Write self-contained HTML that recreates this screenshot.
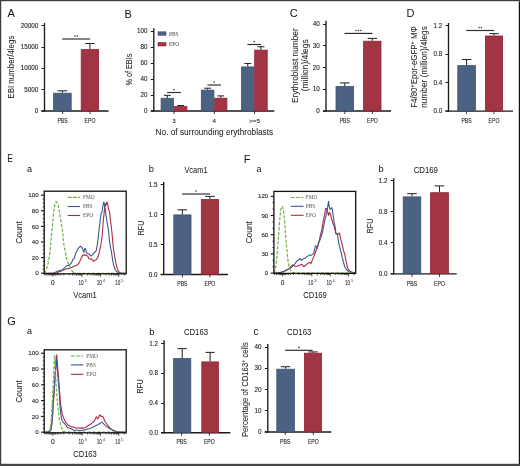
<!DOCTYPE html>
<html><head><meta charset="utf-8"><style>
html,body{margin:0;padding:0;background:#fff;}
svg{display:block;will-change:transform;}
</style></head><body>
<svg width="520" height="466" viewBox="0 0 520 466">
<rect x="0" y="0" width="520" height="466" fill="#fff"/>
<text x="7.6" y="17.3" font-size="11" text-anchor="start" fill="#111" font-family='"Liberation Sans", sans-serif'>A</text>
<text x="124.5" y="17.6" font-size="11" text-anchor="start" fill="#111" font-family='"Liberation Sans", sans-serif'>B</text>
<text x="289.8" y="17.4" font-size="11" text-anchor="start" fill="#111" font-family='"Liberation Sans", sans-serif'>C</text>
<text x="406.4" y="17.4" font-size="11" text-anchor="start" fill="#111" font-family='"Liberation Sans", sans-serif'>D</text>
<text x="7.2" y="162.2" font-size="11" text-anchor="start" fill="#111" font-family='"Liberation Sans", sans-serif' textLength="5.6" lengthAdjust="spacingAndGlyphs">E</text>
<text x="243.8" y="162.6" font-size="11" text-anchor="start" fill="#111" font-family='"Liberation Sans", sans-serif'>F</text>
<text x="7.3" y="325.3" font-size="11" text-anchor="start" fill="#111" font-family='"Liberation Sans", sans-serif'>G</text>
<line x1="44.5" y1="23" x2="44.5" y2="111.6" stroke="#1a1a1a" stroke-width="1.35"/>
<line x1="41.5" y1="111" x2="108.5" y2="111" stroke="#1a1a1a" stroke-width="1.35"/>
<line x1="41.5" y1="25.5" x2="44.5" y2="25.5" stroke="#1a1a1a" stroke-width="1.05"/>
<text x="38.3" y="27.8" font-size="6.3" text-anchor="end" fill="#222" font-family='"Liberation Sans", sans-serif' stroke="#222" stroke-width="0.1">20000</text>
<line x1="41.5" y1="47.5" x2="44.5" y2="47.5" stroke="#1a1a1a" stroke-width="1.05"/>
<text x="38.3" y="49.1" font-size="6.3" text-anchor="end" fill="#222" font-family='"Liberation Sans", sans-serif' stroke="#222" stroke-width="0.1">15000</text>
<line x1="41.5" y1="68.5" x2="44.5" y2="68.5" stroke="#1a1a1a" stroke-width="1.05"/>
<text x="38.3" y="70.39999999999999" font-size="6.3" text-anchor="end" fill="#222" font-family='"Liberation Sans", sans-serif' stroke="#222" stroke-width="0.1">10000</text>
<line x1="41.5" y1="89.5" x2="44.5" y2="89.5" stroke="#1a1a1a" stroke-width="1.05"/>
<text x="38.3" y="91.69999999999999" font-size="6.3" text-anchor="end" fill="#222" font-family='"Liberation Sans", sans-serif' stroke="#222" stroke-width="0.1">5000</text>
<line x1="41.5" y1="111" x2="44.5" y2="111" stroke="#1a1a1a" stroke-width="1.05"/>
<text x="38.3" y="113.1" font-size="6.3" text-anchor="end" fill="#222" font-family='"Liberation Sans", sans-serif' stroke="#222" stroke-width="0.1">0</text>
<line x1="62.4" y1="92.8" x2="62.4" y2="90.8" stroke="#262626" stroke-width="1.05"/>
<line x1="57.65" y1="90.8" x2="67.14999999999999" y2="90.8" stroke="#262626" stroke-width="1.05"/>
<rect x="53.6" y="93.2" width="17.599999999999987" height="17.799999999999997" fill="#4c6283" stroke="#3a5279" stroke-width="0.8"/>
<line x1="89.9" y1="49.2" x2="89.9" y2="43.5" stroke="#262626" stroke-width="1.05"/>
<line x1="85.2" y1="43.5" x2="94.60000000000001" y2="43.5" stroke="#262626" stroke-width="1.05"/>
<rect x="81.2" y="49.6" width="17.39999999999999" height="61.4" fill="#a23543" stroke="#8f2435" stroke-width="0.8"/>
<line x1="62.2" y1="39.0" x2="90.1" y2="39.0" stroke="#2b2b2b" stroke-width="1.15"/>
<circle cx="74.98" cy="36.10" r="0.8" fill="#3a3a3a"/>
<circle cx="77.33" cy="36.10" r="0.8" fill="#3a3a3a"/>
<line x1="62.6" y1="111" x2="62.6" y2="114" stroke="#222" stroke-width="0.9"/>
<text x="62.6" y="123.2" font-size="6.5" text-anchor="middle" fill="#222" font-family='"Liberation Sans", sans-serif' textLength="10.3" lengthAdjust="spacingAndGlyphs" stroke="#222" stroke-width="0.1">PBS</text>
<line x1="90" y1="111" x2="90" y2="114" stroke="#222" stroke-width="0.9"/>
<text x="90" y="123.2" font-size="6.5" text-anchor="middle" fill="#222" font-family='"Liberation Sans", sans-serif' textLength="10.8" lengthAdjust="spacingAndGlyphs" stroke="#222" stroke-width="0.1">EPO</text>
<text x="14.2" y="67.15" font-size="9.0" text-anchor="middle" fill="#222" font-family='"Liberation Sans", sans-serif' transform="rotate(-90 14.2 67.15)" textLength="63" lengthAdjust="spacingAndGlyphs" stroke="#222" stroke-width="0.04">EBI number/4legs</text>
<line x1="153.8" y1="28.3" x2="153.8" y2="111.6" stroke="#1a1a1a" stroke-width="1.35"/>
<line x1="150.8" y1="111" x2="274.4" y2="111" stroke="#1a1a1a" stroke-width="1.35"/>
<line x1="150.8" y1="31.5" x2="153.8" y2="31.5" stroke="#1a1a1a" stroke-width="1.05"/>
<text x="147.60000000000002" y="33.4" font-size="6.3" text-anchor="end" fill="#222" font-family='"Liberation Sans", sans-serif' stroke="#222" stroke-width="0.1">100</text>
<line x1="150.8" y1="47.5" x2="153.8" y2="47.5" stroke="#1a1a1a" stroke-width="1.05"/>
<text x="147.60000000000002" y="49.4" font-size="6.3" text-anchor="end" fill="#222" font-family='"Liberation Sans", sans-serif' stroke="#222" stroke-width="0.1">80</text>
<line x1="150.8" y1="63.5" x2="153.8" y2="63.5" stroke="#1a1a1a" stroke-width="1.05"/>
<text x="147.60000000000002" y="65.39999999999999" font-size="6.3" text-anchor="end" fill="#222" font-family='"Liberation Sans", sans-serif' stroke="#222" stroke-width="0.1">60</text>
<line x1="150.8" y1="79.5" x2="153.8" y2="79.5" stroke="#1a1a1a" stroke-width="1.05"/>
<text x="147.60000000000002" y="81.3" font-size="6.3" text-anchor="end" fill="#222" font-family='"Liberation Sans", sans-serif' stroke="#222" stroke-width="0.1">40</text>
<line x1="150.8" y1="95.5" x2="153.8" y2="95.5" stroke="#1a1a1a" stroke-width="1.05"/>
<text x="147.60000000000002" y="97.3" font-size="6.3" text-anchor="end" fill="#222" font-family='"Liberation Sans", sans-serif' stroke="#222" stroke-width="0.1">20</text>
<line x1="150.8" y1="111" x2="153.8" y2="111" stroke="#1a1a1a" stroke-width="1.05"/>
<text x="147.60000000000002" y="113.1" font-size="6.3" text-anchor="end" fill="#222" font-family='"Liberation Sans", sans-serif' stroke="#222" stroke-width="0.1">0</text>
<line x1="167.3" y1="97.9" x2="167.3" y2="95.3" stroke="#262626" stroke-width="1.05"/>
<line x1="163.85" y1="95.3" x2="170.75000000000003" y2="95.3" stroke="#262626" stroke-width="1.05"/>
<rect x="161.1" y="98.30000000000001" width="12.400000000000006" height="12.699999999999989" fill="#4c6283" stroke="#3a5279" stroke-width="0.8"/>
<line x1="180.60000000000002" y1="106.2" x2="180.60000000000002" y2="105.5" stroke="#262626" stroke-width="1.05"/>
<line x1="177.10000000000002" y1="105.5" x2="184.10000000000002" y2="105.5" stroke="#262626" stroke-width="1.05"/>
<rect x="174.3" y="106.60000000000001" width="12.599999999999994" height="4.3999999999999915" fill="#a23543" stroke="#8f2435" stroke-width="0.8"/>
<line x1="207.60000000000002" y1="89.7" x2="207.60000000000002" y2="88.2" stroke="#262626" stroke-width="1.05"/>
<line x1="204.10000000000002" y1="88.2" x2="211.10000000000002" y2="88.2" stroke="#262626" stroke-width="1.05"/>
<rect x="201.3" y="90.10000000000001" width="12.599999999999994" height="20.89999999999999" fill="#4c6283" stroke="#3a5279" stroke-width="0.8"/>
<line x1="220.8" y1="97.8" x2="220.8" y2="95.9" stroke="#262626" stroke-width="1.05"/>
<line x1="217.4" y1="95.9" x2="224.20000000000002" y2="95.9" stroke="#262626" stroke-width="1.05"/>
<rect x="214.70000000000002" y="98.2" width="12.199999999999989" height="12.799999999999997" fill="#a23543" stroke="#8f2435" stroke-width="0.8"/>
<line x1="247.75" y1="66.5" x2="247.75" y2="63.5" stroke="#262626" stroke-width="1.05"/>
<line x1="244.325" y1="63.5" x2="251.175" y2="63.5" stroke="#262626" stroke-width="1.05"/>
<rect x="241.6" y="66.9" width="12.300000000000011" height="44.099999999999994" fill="#4c6283" stroke="#3a5279" stroke-width="0.8"/>
<line x1="260.95000000000005" y1="49.7" x2="260.95000000000005" y2="46.7" stroke="#262626" stroke-width="1.05"/>
<line x1="257.475" y1="46.7" x2="264.42500000000007" y2="46.7" stroke="#262626" stroke-width="1.05"/>
<rect x="254.70000000000002" y="50.1" width="12.500000000000028" height="60.9" fill="#a23543" stroke="#8f2435" stroke-width="0.8"/>
<line x1="167.2" y1="92.5" x2="180.8" y2="92.5" stroke="#2b2b2b" stroke-width="1.15"/>
<circle cx="174.00" cy="89.60" r="0.8" fill="#3a3a3a"/>
<line x1="207.4" y1="85.0" x2="220.9" y2="85.0" stroke="#2b2b2b" stroke-width="1.15"/>
<circle cx="214.15" cy="82.10" r="0.8" fill="#3a3a3a"/>
<line x1="247.4" y1="44.5" x2="261.0" y2="44.5" stroke="#2b2b2b" stroke-width="1.15"/>
<circle cx="254.20" cy="41.60" r="0.8" fill="#3a3a3a"/>
<line x1="174" y1="111" x2="174" y2="114" stroke="#222" stroke-width="0.9"/>
<text x="174" y="123" font-size="6.2" text-anchor="middle" fill="#222" font-family='"Liberation Sans", sans-serif' stroke="#222" stroke-width="0.1">3</text>
<line x1="214.3" y1="111" x2="214.3" y2="114" stroke="#222" stroke-width="0.9"/>
<text x="214.3" y="123" font-size="6.2" text-anchor="middle" fill="#222" font-family='"Liberation Sans", sans-serif' stroke="#222" stroke-width="0.1">4</text>
<line x1="254.5" y1="111" x2="254.5" y2="114" stroke="#222" stroke-width="0.9"/>
<text x="254.5" y="123" font-size="6.2" text-anchor="middle" fill="#222" font-family='"Liberation Sans", sans-serif' stroke="#222" stroke-width="0.1">&gt;=5</text>
<text x="214.4" y="134.7" font-size="8.8" text-anchor="middle" fill="#222" font-family='"Liberation Sans", sans-serif' textLength="117.6" lengthAdjust="spacingAndGlyphs" stroke="#222" stroke-width="0.04">No. of surrounding erythroblasts</text>
<text x="131.8" y="69.6" font-size="8.8" text-anchor="middle" fill="#222" font-family='"Liberation Sans", sans-serif' transform="rotate(-90 131.8 69.6)" textLength="32" lengthAdjust="spacingAndGlyphs" stroke="#222" stroke-width="0.04">% of EBIs</text>
<rect x="158" y="31.8" width="8" height="3.4999999999999964" fill="#4c6283" stroke="#3d5478" stroke-width="0.6"/>
<rect x="158" y="42.5" width="8" height="3.5" fill="#a23543" stroke="#8e2a38" stroke-width="0.6"/>
<text x="169" y="35.6" font-size="5.4" text-anchor="start" fill="#444" font-family='"Liberation Serif", serif'>PBS</text>
<text x="169" y="46.1" font-size="5.4" text-anchor="start" fill="#444" font-family='"Liberation Serif", serif'>EPO</text>
<line x1="326" y1="20.8" x2="326" y2="111.6" stroke="#1a1a1a" stroke-width="1.35"/>
<line x1="323" y1="111" x2="391" y2="111" stroke="#1a1a1a" stroke-width="1.35"/>
<line x1="323" y1="24.5" x2="326" y2="24.5" stroke="#1a1a1a" stroke-width="1.05"/>
<text x="319.8" y="26.1" font-size="6.3" text-anchor="end" fill="#222" font-family='"Liberation Sans", sans-serif' stroke="#222" stroke-width="0.1">40</text>
<line x1="323" y1="45.5" x2="326" y2="45.5" stroke="#1a1a1a" stroke-width="1.05"/>
<text x="319.8" y="47.85" font-size="6.3" text-anchor="end" fill="#222" font-family='"Liberation Sans", sans-serif' stroke="#222" stroke-width="0.1">30</text>
<line x1="323" y1="67.5" x2="326" y2="67.5" stroke="#1a1a1a" stroke-width="1.05"/>
<text x="319.8" y="69.6" font-size="6.3" text-anchor="end" fill="#222" font-family='"Liberation Sans", sans-serif' stroke="#222" stroke-width="0.1">20</text>
<line x1="323" y1="89.5" x2="326" y2="89.5" stroke="#1a1a1a" stroke-width="1.05"/>
<text x="319.8" y="91.35" font-size="6.3" text-anchor="end" fill="#222" font-family='"Liberation Sans", sans-serif' stroke="#222" stroke-width="0.1">10</text>
<line x1="323" y1="111" x2="326" y2="111" stroke="#1a1a1a" stroke-width="1.05"/>
<text x="319.8" y="113.1" font-size="6.3" text-anchor="end" fill="#222" font-family='"Liberation Sans", sans-serif' stroke="#222" stroke-width="0.1">0</text>
<line x1="344.8" y1="86.1" x2="344.8" y2="82.9" stroke="#262626" stroke-width="1.05"/>
<line x1="340.05" y1="82.9" x2="349.55" y2="82.9" stroke="#262626" stroke-width="1.05"/>
<rect x="336.0" y="86.5" width="17.600000000000023" height="24.5" fill="#4c6283" stroke="#3a5279" stroke-width="0.8"/>
<line x1="372.29999999999995" y1="40.8" x2="372.29999999999995" y2="38.4" stroke="#262626" stroke-width="1.05"/>
<line x1="367.59999999999997" y1="38.4" x2="376.99999999999994" y2="38.4" stroke="#262626" stroke-width="1.05"/>
<rect x="363.59999999999997" y="41.199999999999996" width="17.400000000000034" height="69.80000000000001" fill="#a23543" stroke="#8f2435" stroke-width="0.8"/>
<line x1="344.5" y1="33.4" x2="372.4" y2="33.4" stroke="#2b2b2b" stroke-width="1.15"/>
<circle cx="356.10" cy="30.50" r="0.8" fill="#3a3a3a"/>
<circle cx="358.45" cy="30.50" r="0.8" fill="#3a3a3a"/>
<circle cx="360.80" cy="30.50" r="0.8" fill="#3a3a3a"/>
<line x1="344.8" y1="111" x2="344.8" y2="114" stroke="#222" stroke-width="0.9"/>
<text x="344.8" y="123.2" font-size="6.5" text-anchor="middle" fill="#222" font-family='"Liberation Sans", sans-serif' textLength="10.3" lengthAdjust="spacingAndGlyphs" stroke="#222" stroke-width="0.1">PBS</text>
<line x1="372.4" y1="111" x2="372.4" y2="114" stroke="#222" stroke-width="0.9"/>
<text x="372.4" y="123.2" font-size="6.5" text-anchor="middle" fill="#222" font-family='"Liberation Sans", sans-serif' textLength="10.8" lengthAdjust="spacingAndGlyphs" stroke="#222" stroke-width="0.1">EPO</text>
<text x="297.6" y="65.65" font-size="9.0" text-anchor="middle" fill="#222" font-family='"Liberation Sans", sans-serif' transform="rotate(-90 297.6 65.65)" textLength="74.6" lengthAdjust="spacingAndGlyphs" stroke="#222" stroke-width="0.04">Erythroblast number</text>
<text x="307.9" y="65.3" font-size="9.0" text-anchor="middle" fill="#222" font-family='"Liberation Sans", sans-serif' transform="rotate(-90 307.9 65.3)" textLength="51.8" lengthAdjust="spacingAndGlyphs" stroke="#222" stroke-width="0.04">(million)/4legs</text>
<line x1="448.5" y1="23" x2="448.5" y2="111.69999999999999" stroke="#1a1a1a" stroke-width="1.35"/>
<line x1="445.5" y1="111.1" x2="513" y2="111.1" stroke="#1a1a1a" stroke-width="1.35"/>
<line x1="445.5" y1="25.5" x2="448.5" y2="25.5" stroke="#1a1a1a" stroke-width="1.05"/>
<text x="442.3" y="28.0" font-size="6.3" text-anchor="end" fill="#222" font-family='"Liberation Sans", sans-serif' stroke="#222" stroke-width="0.1">1.2</text>
<line x1="445.5" y1="54.5" x2="448.5" y2="54.5" stroke="#1a1a1a" stroke-width="1.05"/>
<text x="442.3" y="56.4" font-size="6.3" text-anchor="end" fill="#222" font-family='"Liberation Sans", sans-serif' stroke="#222" stroke-width="0.1">0.8</text>
<line x1="445.5" y1="82.5" x2="448.5" y2="82.5" stroke="#1a1a1a" stroke-width="1.05"/>
<text x="442.3" y="84.8" font-size="6.3" text-anchor="end" fill="#222" font-family='"Liberation Sans", sans-serif' stroke="#222" stroke-width="0.1">0.4</text>
<line x1="445.5" y1="111.1" x2="448.5" y2="111.1" stroke="#1a1a1a" stroke-width="1.05"/>
<text x="442.3" y="113.19999999999999" font-size="6.3" text-anchor="end" fill="#222" font-family='"Liberation Sans", sans-serif' stroke="#222" stroke-width="0.1">0.0</text>
<line x1="466.6" y1="65.2" x2="466.6" y2="59.5" stroke="#262626" stroke-width="1.05"/>
<line x1="461.85" y1="59.5" x2="471.35" y2="59.5" stroke="#262626" stroke-width="1.05"/>
<rect x="457.79999999999995" y="65.60000000000001" width="17.60000000000008" height="45.499999999999986" fill="#4c6283" stroke="#3a5279" stroke-width="0.8"/>
<line x1="494.05" y1="35.6" x2="494.05" y2="33.6" stroke="#262626" stroke-width="1.05"/>
<line x1="489.425" y1="33.6" x2="498.675" y2="33.6" stroke="#262626" stroke-width="1.05"/>
<rect x="485.5" y="36.0" width="17.100000000000023" height="75.1" fill="#a23543" stroke="#8f2435" stroke-width="0.8"/>
<line x1="466.3" y1="30.5" x2="494.1" y2="30.5" stroke="#2b2b2b" stroke-width="1.15"/>
<circle cx="479.03" cy="27.60" r="0.8" fill="#3a3a3a"/>
<circle cx="481.38" cy="27.60" r="0.8" fill="#3a3a3a"/>
<line x1="466.6" y1="111.1" x2="466.6" y2="114.1" stroke="#222" stroke-width="0.9"/>
<text x="466.6" y="123.2" font-size="6.5" text-anchor="middle" fill="#222" font-family='"Liberation Sans", sans-serif' textLength="10.3" lengthAdjust="spacingAndGlyphs" stroke="#222" stroke-width="0.1">PBS</text>
<line x1="494" y1="111.1" x2="494" y2="114.1" stroke="#222" stroke-width="0.9"/>
<text x="494" y="123.2" font-size="6.5" text-anchor="middle" fill="#222" font-family='"Liberation Sans", sans-serif' textLength="10.8" lengthAdjust="spacingAndGlyphs" stroke="#222" stroke-width="0.1">EPO</text>
<text x="417.4" y="66.95" font-size="8.8" text-anchor="middle" fill="#222" font-family='"Liberation Sans", sans-serif' transform="rotate(-90 417.4 66.95)" textLength="81.5" lengthAdjust="spacingAndGlyphs" stroke="#222" stroke-width="0.04">F4/80<tspan font-size="6" dy="-3.2">+</tspan><tspan dy="3.2">Epor-eGFP</tspan><tspan font-size="6" dy="-3.2">+</tspan><tspan dy="3.2"> MΦ</tspan></text>
<text x="427.5" y="66.95" font-size="8.8" text-anchor="middle" fill="#222" font-family='"Liberation Sans", sans-serif' transform="rotate(-90 427.5 66.95)" textLength="81.6" lengthAdjust="spacingAndGlyphs" stroke="#222" stroke-width="0.04">number (million)/4legs</text>
<text x="148.8" y="172" font-size="9.3" text-anchor="start" fill="#111" font-family='"Liberation Sans", sans-serif'>b</text>
<text x="196" y="173.2" font-size="9.3" text-anchor="middle" fill="#222" font-family='"Liberation Sans", sans-serif' textLength="23.2" lengthAdjust="spacingAndGlyphs" stroke="#222" stroke-width="0.04">Vcam1</text>
<line x1="163.7" y1="182" x2="163.7" y2="275.1" stroke="#1a1a1a" stroke-width="1.35"/>
<line x1="160.7" y1="274.5" x2="228" y2="274.5" stroke="#1a1a1a" stroke-width="1.35"/>
<line x1="160.7" y1="184.5" x2="163.7" y2="184.5" stroke="#1a1a1a" stroke-width="1.05"/>
<text x="157.5" y="186.6" font-size="6.3" text-anchor="end" fill="#222" font-family='"Liberation Sans", sans-serif' stroke="#222" stroke-width="0.1">1.5</text>
<line x1="160.7" y1="214.5" x2="163.7" y2="214.5" stroke="#1a1a1a" stroke-width="1.05"/>
<text x="157.5" y="216.6" font-size="6.3" text-anchor="end" fill="#222" font-family='"Liberation Sans", sans-serif' stroke="#222" stroke-width="0.1">1.0</text>
<line x1="160.7" y1="244.5" x2="163.7" y2="244.5" stroke="#1a1a1a" stroke-width="1.05"/>
<text x="157.5" y="246.6" font-size="6.3" text-anchor="end" fill="#222" font-family='"Liberation Sans", sans-serif' stroke="#222" stroke-width="0.1">0.5</text>
<line x1="160.7" y1="274.5" x2="163.7" y2="274.5" stroke="#1a1a1a" stroke-width="1.05"/>
<text x="157.5" y="276.6" font-size="6.3" text-anchor="end" fill="#222" font-family='"Liberation Sans", sans-serif' stroke="#222" stroke-width="0.1">0.0</text>
<line x1="182.4" y1="214.5" x2="182.4" y2="209.8" stroke="#262626" stroke-width="1.05"/>
<line x1="177.75" y1="209.8" x2="187.05" y2="209.8" stroke="#262626" stroke-width="1.05"/>
<rect x="173.8" y="214.9" width="17.19999999999999" height="59.599999999999994" fill="#4c6283" stroke="#3a5279" stroke-width="0.8"/>
<line x1="209.9" y1="199.0" x2="209.9" y2="196.4" stroke="#262626" stroke-width="1.05"/>
<line x1="205.25" y1="196.4" x2="214.55" y2="196.4" stroke="#262626" stroke-width="1.05"/>
<rect x="201.3" y="199.4" width="17.19999999999999" height="75.1" fill="#a23543" stroke="#8f2435" stroke-width="0.8"/>
<line x1="182" y1="194.0" x2="210" y2="194.0" stroke="#2b2b2b" stroke-width="1.15"/>
<circle cx="196.00" cy="191.10" r="0.8" fill="#3a3a3a"/>
<line x1="182.4" y1="274.5" x2="182.4" y2="277.5" stroke="#222" stroke-width="0.9"/>
<text x="182.4" y="285.5" font-size="6.5" text-anchor="middle" fill="#222" font-family='"Liberation Sans", sans-serif' textLength="10.3" lengthAdjust="spacingAndGlyphs" stroke="#222" stroke-width="0.1">PBS</text>
<line x1="209.9" y1="274.5" x2="209.9" y2="277.5" stroke="#222" stroke-width="0.9"/>
<text x="209.9" y="285.5" font-size="6.5" text-anchor="middle" fill="#222" font-family='"Liberation Sans", sans-serif' textLength="10.8" lengthAdjust="spacingAndGlyphs" stroke="#222" stroke-width="0.1">EPO</text>
<text x="143.5" y="228.0" font-size="9.2" text-anchor="middle" fill="#222" font-family='"Liberation Sans", sans-serif' transform="rotate(-90 143.5 228.0)" textLength="14.4" lengthAdjust="spacingAndGlyphs" stroke="#222" stroke-width="0.04">RFU</text>
<text x="378.6" y="172.4" font-size="9.3" text-anchor="start" fill="#111" font-family='"Liberation Sans", sans-serif'>b</text>
<text x="425.8" y="172.9" font-size="9.4" text-anchor="middle" fill="#222" font-family='"Liberation Sans", sans-serif' textLength="24.3" lengthAdjust="spacingAndGlyphs" stroke="#222" stroke-width="0.04">CD169</text>
<line x1="393.7" y1="178.2" x2="393.7" y2="274.40000000000003" stroke="#1a1a1a" stroke-width="1.35"/>
<line x1="390.7" y1="273.8" x2="456.7" y2="273.8" stroke="#1a1a1a" stroke-width="1.35"/>
<line x1="390.7" y1="180.5" x2="393.7" y2="180.5" stroke="#1a1a1a" stroke-width="1.05"/>
<text x="387.5" y="182.79999999999998" font-size="6.3" text-anchor="end" fill="#222" font-family='"Liberation Sans", sans-serif' stroke="#222" stroke-width="0.1">1.2</text>
<line x1="390.7" y1="211.5" x2="393.7" y2="211.5" stroke="#1a1a1a" stroke-width="1.05"/>
<text x="387.5" y="213.79999999999998" font-size="6.3" text-anchor="end" fill="#222" font-family='"Liberation Sans", sans-serif' stroke="#222" stroke-width="0.1">0.8</text>
<line x1="390.7" y1="242.5" x2="393.7" y2="242.5" stroke="#1a1a1a" stroke-width="1.05"/>
<text x="387.5" y="244.9" font-size="6.3" text-anchor="end" fill="#222" font-family='"Liberation Sans", sans-serif' stroke="#222" stroke-width="0.1">0.4</text>
<line x1="390.7" y1="273.8" x2="393.7" y2="273.8" stroke="#1a1a1a" stroke-width="1.05"/>
<text x="387.5" y="275.90000000000003" font-size="6.3" text-anchor="end" fill="#222" font-family='"Liberation Sans", sans-serif' stroke="#222" stroke-width="0.1">0.0</text>
<line x1="412.0" y1="196.5" x2="412.0" y2="193.6" stroke="#262626" stroke-width="1.05"/>
<line x1="407.25" y1="193.6" x2="416.75" y2="193.6" stroke="#262626" stroke-width="1.05"/>
<rect x="403.2" y="196.9" width="17.600000000000023" height="76.9" fill="#4c6283" stroke="#3a5279" stroke-width="0.8"/>
<line x1="439.5" y1="192.3" x2="439.5" y2="185.9" stroke="#262626" stroke-width="1.05"/>
<line x1="434.7" y1="185.9" x2="444.3" y2="185.9" stroke="#262626" stroke-width="1.05"/>
<rect x="430.59999999999997" y="192.70000000000002" width="17.800000000000068" height="81.1" fill="#a23543" stroke="#8f2435" stroke-width="0.8"/>
<line x1="412" y1="273.8" x2="412" y2="276.8" stroke="#222" stroke-width="0.9"/>
<text x="412" y="285.5" font-size="6.5" text-anchor="middle" fill="#222" font-family='"Liberation Sans", sans-serif' textLength="10.3" lengthAdjust="spacingAndGlyphs" stroke="#222" stroke-width="0.1">PBS</text>
<line x1="439.5" y1="273.8" x2="439.5" y2="276.8" stroke="#222" stroke-width="0.9"/>
<text x="439.5" y="285.5" font-size="6.5" text-anchor="middle" fill="#222" font-family='"Liberation Sans", sans-serif' textLength="10.8" lengthAdjust="spacingAndGlyphs" stroke="#222" stroke-width="0.1">EPO</text>
<text x="373.4" y="226.0" font-size="9.2" text-anchor="middle" fill="#222" font-family='"Liberation Sans", sans-serif' transform="rotate(-90 373.4 226.0)" textLength="14.4" lengthAdjust="spacingAndGlyphs" stroke="#222" stroke-width="0.04">RFU</text>
<text x="149.2" y="334.5" font-size="9.3" text-anchor="start" fill="#111" font-family='"Liberation Sans", sans-serif'>b</text>
<text x="196" y="335.2" font-size="9.3" text-anchor="middle" fill="#222" font-family='"Liberation Sans", sans-serif' textLength="24.2" lengthAdjust="spacingAndGlyphs" stroke="#222" stroke-width="0.04">CD163</text>
<line x1="164.1" y1="340.3" x2="164.1" y2="433.3" stroke="#1a1a1a" stroke-width="1.35"/>
<line x1="161.1" y1="432.7" x2="230.3" y2="432.7" stroke="#1a1a1a" stroke-width="1.35"/>
<line x1="161.1" y1="343.5" x2="164.1" y2="343.5" stroke="#1a1a1a" stroke-width="1.05"/>
<text x="157.9" y="345.70000000000005" font-size="6.3" text-anchor="end" fill="#222" font-family='"Liberation Sans", sans-serif' stroke="#222" stroke-width="0.1">1.2</text>
<line x1="161.1" y1="373.5" x2="164.1" y2="373.5" stroke="#1a1a1a" stroke-width="1.05"/>
<text x="157.9" y="375.40000000000003" font-size="6.3" text-anchor="end" fill="#222" font-family='"Liberation Sans", sans-serif' stroke="#222" stroke-width="0.1">0.8</text>
<line x1="161.1" y1="403.5" x2="164.1" y2="403.5" stroke="#1a1a1a" stroke-width="1.05"/>
<text x="157.9" y="405.1" font-size="6.3" text-anchor="end" fill="#222" font-family='"Liberation Sans", sans-serif' stroke="#222" stroke-width="0.1">0.4</text>
<line x1="161.1" y1="432.7" x2="164.1" y2="432.7" stroke="#1a1a1a" stroke-width="1.05"/>
<text x="157.9" y="434.8" font-size="6.3" text-anchor="end" fill="#222" font-family='"Liberation Sans", sans-serif' stroke="#222" stroke-width="0.1">0.0</text>
<line x1="182.2" y1="358.2" x2="182.2" y2="348.6" stroke="#262626" stroke-width="1.05"/>
<line x1="177.54999999999998" y1="348.6" x2="186.85" y2="348.6" stroke="#262626" stroke-width="1.05"/>
<rect x="173.6" y="358.59999999999997" width="17.19999999999999" height="74.10000000000002" fill="#4c6283" stroke="#3a5279" stroke-width="0.8"/>
<line x1="210.10000000000002" y1="361.5" x2="210.10000000000002" y2="352.4" stroke="#262626" stroke-width="1.05"/>
<line x1="205.60000000000002" y1="352.4" x2="214.60000000000002" y2="352.4" stroke="#262626" stroke-width="1.05"/>
<rect x="201.8" y="361.9" width="16.599999999999994" height="70.80000000000001" fill="#a23543" stroke="#8f2435" stroke-width="0.8"/>
<line x1="181.6" y1="432.7" x2="181.6" y2="435.7" stroke="#222" stroke-width="0.9"/>
<text x="181.6" y="444.3" font-size="6.5" text-anchor="middle" fill="#222" font-family='"Liberation Sans", sans-serif' textLength="10.3" lengthAdjust="spacingAndGlyphs" stroke="#222" stroke-width="0.1">PBS</text>
<line x1="209.3" y1="432.7" x2="209.3" y2="435.7" stroke="#222" stroke-width="0.9"/>
<text x="209.3" y="444.3" font-size="6.5" text-anchor="middle" fill="#222" font-family='"Liberation Sans", sans-serif' textLength="10.8" lengthAdjust="spacingAndGlyphs" stroke="#222" stroke-width="0.1">EPO</text>
<text x="142.7" y="386.3" font-size="9.2" text-anchor="middle" fill="#222" font-family='"Liberation Sans", sans-serif' transform="rotate(-90 142.7 386.3)" textLength="14.4" lengthAdjust="spacingAndGlyphs" stroke="#222" stroke-width="0.04">RFU</text>
<text x="253.5" y="335.0" font-size="10.4" text-anchor="start" fill="#111" font-family='"Liberation Sans", sans-serif'>c</text>
<text x="299.2" y="335.2" font-size="9.3" text-anchor="middle" fill="#222" font-family='"Liberation Sans", sans-serif' textLength="24.2" lengthAdjust="spacingAndGlyphs" stroke="#222" stroke-width="0.04">CD163</text>
<line x1="267.8" y1="344.1" x2="267.8" y2="432.6" stroke="#1a1a1a" stroke-width="1.35"/>
<line x1="264.8" y1="432" x2="331.2" y2="432" stroke="#1a1a1a" stroke-width="1.35"/>
<line x1="264.8" y1="347.5" x2="267.8" y2="347.5" stroke="#1a1a1a" stroke-width="1.05"/>
<text x="261.6" y="349.1" font-size="6.3" text-anchor="end" fill="#222" font-family='"Liberation Sans", sans-serif' stroke="#222" stroke-width="0.1">40</text>
<line x1="264.8" y1="368.5" x2="267.8" y2="368.5" stroke="#1a1a1a" stroke-width="1.05"/>
<text x="261.6" y="370.40000000000003" font-size="6.3" text-anchor="end" fill="#222" font-family='"Liberation Sans", sans-serif' stroke="#222" stroke-width="0.1">30</text>
<line x1="264.8" y1="389.5" x2="267.8" y2="389.5" stroke="#1a1a1a" stroke-width="1.05"/>
<text x="261.6" y="391.6" font-size="6.3" text-anchor="end" fill="#222" font-family='"Liberation Sans", sans-serif' stroke="#222" stroke-width="0.1">20</text>
<line x1="264.8" y1="410.5" x2="267.8" y2="410.5" stroke="#1a1a1a" stroke-width="1.05"/>
<text x="261.6" y="412.8" font-size="6.3" text-anchor="end" fill="#222" font-family='"Liberation Sans", sans-serif' stroke="#222" stroke-width="0.1">10</text>
<line x1="264.8" y1="432" x2="267.8" y2="432" stroke="#1a1a1a" stroke-width="1.05"/>
<text x="261.6" y="434.1" font-size="6.3" text-anchor="end" fill="#222" font-family='"Liberation Sans", sans-serif' stroke="#222" stroke-width="0.1">0</text>
<line x1="285.6" y1="368.8" x2="285.6" y2="366.7" stroke="#262626" stroke-width="1.05"/>
<line x1="280.85" y1="366.7" x2="290.35" y2="366.7" stroke="#262626" stroke-width="1.05"/>
<rect x="276.79999999999995" y="369.2" width="17.60000000000008" height="62.80000000000001" fill="#4c6283" stroke="#3a5279" stroke-width="0.8"/>
<line x1="313.0" y1="352.8" x2="313.0" y2="351.9" stroke="#262626" stroke-width="1.05"/>
<line x1="308.35" y1="351.9" x2="317.65" y2="351.9" stroke="#262626" stroke-width="1.05"/>
<rect x="304.4" y="353.2" width="17.200000000000045" height="78.80000000000001" fill="#a23543" stroke="#8f2435" stroke-width="0.8"/>
<line x1="285.1" y1="350.3" x2="312.7" y2="350.3" stroke="#2b2b2b" stroke-width="1.15"/>
<circle cx="298.90" cy="347.40" r="0.8" fill="#3a3a3a"/>
<line x1="285.2" y1="432" x2="285.2" y2="435" stroke="#222" stroke-width="0.9"/>
<text x="285.2" y="444.3" font-size="6.5" text-anchor="middle" fill="#222" font-family='"Liberation Sans", sans-serif' textLength="10.3" lengthAdjust="spacingAndGlyphs" stroke="#222" stroke-width="0.1">PBS</text>
<line x1="313.3" y1="432" x2="313.3" y2="435" stroke="#222" stroke-width="0.9"/>
<text x="313.3" y="444.3" font-size="6.5" text-anchor="middle" fill="#222" font-family='"Liberation Sans", sans-serif' textLength="10.8" lengthAdjust="spacingAndGlyphs" stroke="#222" stroke-width="0.1">EPO</text>
<text x="248.3" y="389.6" font-size="8.8" text-anchor="middle" fill="#222" font-family='"Liberation Sans", sans-serif' transform="rotate(-90 248.3 389.6)" textLength="95" lengthAdjust="spacingAndGlyphs" stroke="#222" stroke-width="0.04">Percentage of CD163<tspan font-size="6" dy="-3.2">+</tspan><tspan dy="3.2"> cells</tspan></text>
<text x="27" y="172" font-size="9.0" text-anchor="start" fill="#111" font-family='"Liberation Sans", sans-serif'>a</text>
<text x="256.4" y="172" font-size="9.0" text-anchor="start" fill="#111" font-family='"Liberation Sans", sans-serif'>a</text>
<text x="27" y="334.3" font-size="9.0" text-anchor="start" fill="#111" font-family='"Liberation Sans", sans-serif'>a</text>
<polyline points="44.5,273.4 52.3,273.4 56,273.2 59.4,271.6 62,270.8 64.6,269.5 67.2,268.6 69.7,268.2 72.3,267.3 74.9,266 77,265.2 78.7,263.5 80,260.9 81.3,257.9 82.6,255.3 84.3,254.9 86.5,255.3 87.8,256.2 89,258.7 90.3,259.2 91.6,258.7 92.5,260 93.8,261.3 95.1,260.4 96.8,259.2 98.1,256.6 99.5,251.3 100.8,245 101.8,238.5 102.3,234 102.8,227.8 103.4,219.2 104.3,211.5 105,206.3 105.6,203.7 106,205.4 106.7,202.4 107.3,202.4 107.9,205.4 108.6,209.7 109.5,211.5 110.3,219.2 111.2,226 112,232.9 112.4,238 113.3,247.5 114.7,256.5 116,263.7 117.4,269.1 119.2,272.3 121.4,273.2 126,273.3" fill="none" stroke="#b02a3e" stroke-width="1.1" stroke-linejoin="round"/>
<polyline points="44.5,273.3 53.2,273.3 57.5,271.2 60.5,270.3 62.6,269.9 64.3,267.8 66.9,265.6 69.5,265.2 71.6,262.6 72.9,259.2 74,258.7 74.6,257.6 75.3,254 76.6,251.5 77.9,248.9 79.2,247.2 80.5,246.3 81.8,247.2 83,249.7 83.9,252.3 84.8,248.4 85.6,248.9 86.5,252.7 87.8,253.6 89.5,254.5 91.2,256.2 92.5,254.9 93.8,253.2 95.5,251.5 96.3,250.6 97.2,245.4 98.1,238.5 98.6,234 99.4,226.9 100.4,218.3 101.3,212.7 102.2,211.9 102.6,208 103.3,203.7 103.9,202 104.3,203.7 104.7,206.3 105.2,208.9 106,215.7 106.9,220.9 108.2,228.6 108.9,234 109.3,239.4 110.2,245.7 111.1,250.2 112,255.6 112.9,261.9 114.2,267.3 116,270.9 118.3,272.7 120.5,273.2 126,273.3" fill="none" stroke="#3a5a8e" stroke-width="1.1" stroke-linejoin="round"/>
<path d="M44.5,273.4 C44.58,273.25 44.63,273.3 45,272.5 C45.37,271.7 46.13,270.38 46.7,268.6 C47.27,266.82 47.9,264.37 48.4,261.8 C48.9,259.23 49.33,256.07 49.7,253.2 C50.07,250.33 50.35,247.13 50.6,244.6 C50.85,242.07 50.97,240.43 51.2,238 C51.43,235.57 51.7,233.07 52,230 C52.3,226.93 52.68,222.9 53,219.6 C53.32,216.3 53.58,212.72 53.9,210.2 C54.22,207.68 54.5,205.92 54.9,204.5 C55.3,203.08 55.75,201.55 56.3,201.7 C56.85,201.85 57.65,203.52 58.2,205.4 C58.75,207.28 59.13,210.32 59.6,213 C60.07,215.68 60.53,218.67 61,221.5 C61.47,224.33 62.07,227.58 62.4,230 C62.73,232.42 62.75,233.57 63,236 C63.25,238.43 63.47,241.73 63.9,244.6 C64.33,247.47 65.03,250.48 65.6,253.2 C66.17,255.92 66.65,258.77 67.3,260.9 C67.95,263.03 68.78,264.43 69.5,266 C70.22,267.57 70.88,269.22 71.6,270.3 C72.32,271.38 72.9,272 73.8,272.5 C74.7,273 68.3,273.15 77,273.3 C85.7,273.45 117.83,273.38 126,273.4" fill="none" stroke="#6fae45" stroke-width="1.2" stroke-dasharray="3.2,1.6"/>
<rect x="44.2" y="191.2" width="82.0" height="82.60000000000002" fill="none" stroke="#111" stroke-width="1.3"/>
<line x1="41.0" y1="273.2" x2="44.2" y2="273.2" stroke="#111" stroke-width="1.1"/>
<text x="38.6" y="275.34999999999997" font-size="6.2" text-anchor="end" fill="#222" font-family='"Liberation Sans", sans-serif' stroke="#222" stroke-width="0.1">0</text>
<line x1="41.0" y1="257.6" x2="44.2" y2="257.6" stroke="#111" stroke-width="1.1"/>
<text x="38.6" y="259.75" font-size="6.2" text-anchor="end" fill="#222" font-family='"Liberation Sans", sans-serif' stroke="#222" stroke-width="0.1">20</text>
<line x1="41.0" y1="242.0" x2="44.2" y2="242.0" stroke="#111" stroke-width="1.1"/>
<text x="38.6" y="244.15" font-size="6.2" text-anchor="end" fill="#222" font-family='"Liberation Sans", sans-serif' stroke="#222" stroke-width="0.1">40</text>
<line x1="41.0" y1="226.4" x2="44.2" y2="226.4" stroke="#111" stroke-width="1.1"/>
<text x="38.6" y="228.55" font-size="6.2" text-anchor="end" fill="#222" font-family='"Liberation Sans", sans-serif' stroke="#222" stroke-width="0.1">60</text>
<line x1="41.0" y1="210.8" x2="44.2" y2="210.8" stroke="#111" stroke-width="1.1"/>
<text x="38.6" y="212.95000000000002" font-size="6.2" text-anchor="end" fill="#222" font-family='"Liberation Sans", sans-serif' stroke="#222" stroke-width="0.1">80</text>
<line x1="41.0" y1="195.2" x2="44.2" y2="195.2" stroke="#111" stroke-width="1.1"/>
<text x="38.6" y="197.35" font-size="6.2" text-anchor="end" fill="#222" font-family='"Liberation Sans", sans-serif' stroke="#222" stroke-width="0.1">100</text>
<line x1="42.800000000000004" y1="269.3" x2="44.2" y2="269.3" stroke="#111" stroke-width="0.9"/>
<line x1="42.800000000000004" y1="265.4" x2="44.2" y2="265.4" stroke="#111" stroke-width="0.9"/>
<line x1="42.800000000000004" y1="261.5" x2="44.2" y2="261.5" stroke="#111" stroke-width="0.9"/>
<line x1="42.800000000000004" y1="253.7" x2="44.2" y2="253.7" stroke="#111" stroke-width="0.9"/>
<line x1="42.800000000000004" y1="249.8" x2="44.2" y2="249.8" stroke="#111" stroke-width="0.9"/>
<line x1="42.800000000000004" y1="245.9" x2="44.2" y2="245.9" stroke="#111" stroke-width="0.9"/>
<line x1="42.800000000000004" y1="238.1" x2="44.2" y2="238.1" stroke="#111" stroke-width="0.9"/>
<line x1="42.800000000000004" y1="234.2" x2="44.2" y2="234.2" stroke="#111" stroke-width="0.9"/>
<line x1="42.800000000000004" y1="230.3" x2="44.2" y2="230.3" stroke="#111" stroke-width="0.9"/>
<line x1="42.800000000000004" y1="222.5" x2="44.2" y2="222.5" stroke="#111" stroke-width="0.9"/>
<line x1="42.800000000000004" y1="218.6" x2="44.2" y2="218.6" stroke="#111" stroke-width="0.9"/>
<line x1="42.800000000000004" y1="214.7" x2="44.2" y2="214.7" stroke="#111" stroke-width="0.9"/>
<line x1="42.800000000000004" y1="206.9" x2="44.2" y2="206.9" stroke="#111" stroke-width="0.9"/>
<line x1="42.800000000000004" y1="203" x2="44.2" y2="203" stroke="#111" stroke-width="0.9"/>
<line x1="42.800000000000004" y1="199.1" x2="44.2" y2="199.1" stroke="#111" stroke-width="0.9"/>
<line x1="82.1" y1="273.8" x2="82.1" y2="276.8" stroke="#111" stroke-width="0.7"/>
<line x1="87.62" y1="273.8" x2="87.62" y2="275.5" stroke="#111" stroke-width="0.7"/>
<line x1="90.86" y1="273.8" x2="90.86" y2="275.5" stroke="#111" stroke-width="0.7"/>
<line x1="93.15" y1="273.8" x2="93.15" y2="275.5" stroke="#111" stroke-width="0.7"/>
<line x1="94.93" y1="273.8" x2="94.93" y2="275.5" stroke="#111" stroke-width="0.7"/>
<line x1="96.38" y1="273.8" x2="96.38" y2="275.5" stroke="#111" stroke-width="0.7"/>
<line x1="97.61" y1="273.8" x2="97.61" y2="275.5" stroke="#111" stroke-width="0.7"/>
<line x1="98.67" y1="273.8" x2="98.67" y2="275.5" stroke="#111" stroke-width="0.7"/>
<line x1="99.61" y1="273.8" x2="99.61" y2="275.5" stroke="#111" stroke-width="0.7"/>
<line x1="100.45" y1="273.8" x2="100.45" y2="276.8" stroke="#111" stroke-width="0.7"/>
<line x1="105.97" y1="273.8" x2="105.97" y2="275.5" stroke="#111" stroke-width="0.7"/>
<line x1="109.21" y1="273.8" x2="109.21" y2="275.5" stroke="#111" stroke-width="0.7"/>
<line x1="111.5" y1="273.8" x2="111.5" y2="275.5" stroke="#111" stroke-width="0.7"/>
<line x1="113.28" y1="273.8" x2="113.28" y2="275.5" stroke="#111" stroke-width="0.7"/>
<line x1="114.73" y1="273.8" x2="114.73" y2="275.5" stroke="#111" stroke-width="0.7"/>
<line x1="115.96" y1="273.8" x2="115.96" y2="275.5" stroke="#111" stroke-width="0.7"/>
<line x1="117.02" y1="273.8" x2="117.02" y2="275.5" stroke="#111" stroke-width="0.7"/>
<line x1="117.96" y1="273.8" x2="117.96" y2="275.5" stroke="#111" stroke-width="0.7"/>
<line x1="118.8" y1="273.8" x2="118.8" y2="276.8" stroke="#111" stroke-width="0.7"/>
<line x1="124.32" y1="273.8" x2="124.32" y2="275.5" stroke="#111" stroke-width="0.7"/>
<line x1="63.75" y1="273.8" x2="63.75" y2="275.5" stroke="#111" stroke-width="0.7"/>
<line x1="69.27" y1="273.8" x2="69.27" y2="275.5" stroke="#111" stroke-width="0.7"/>
<line x1="72.51" y1="273.8" x2="72.51" y2="275.5" stroke="#111" stroke-width="0.7"/>
<line x1="74.8" y1="273.8" x2="74.8" y2="275.5" stroke="#111" stroke-width="0.7"/>
<line x1="76.58" y1="273.8" x2="76.58" y2="275.5" stroke="#111" stroke-width="0.7"/>
<line x1="78.03" y1="273.8" x2="78.03" y2="275.5" stroke="#111" stroke-width="0.7"/>
<line x1="79.26" y1="273.8" x2="79.26" y2="275.5" stroke="#111" stroke-width="0.7"/>
<line x1="80.32" y1="273.8" x2="80.32" y2="275.5" stroke="#111" stroke-width="0.7"/>
<line x1="81.26" y1="273.8" x2="81.26" y2="275.5" stroke="#111" stroke-width="0.7"/>
<line x1="44.8" y1="273.8" x2="44.8" y2="275.5" stroke="#111" stroke-width="0.7"/>
<line x1="46.8" y1="273.8" x2="46.8" y2="275.5" stroke="#111" stroke-width="0.7"/>
<line x1="48.3" y1="273.8" x2="48.3" y2="275.5" stroke="#111" stroke-width="0.7"/>
<line x1="49.8" y1="273.8" x2="49.8" y2="275.5" stroke="#111" stroke-width="0.7"/>
<line x1="50.8" y1="273.8" x2="50.8" y2="275.5" stroke="#111" stroke-width="0.7"/>
<line x1="51.8" y1="273.8" x2="51.8" y2="275.5" stroke="#111" stroke-width="0.7"/>
<line x1="53.8" y1="273.8" x2="53.8" y2="275.5" stroke="#111" stroke-width="0.7"/>
<line x1="54.8" y1="273.8" x2="54.8" y2="275.5" stroke="#111" stroke-width="0.7"/>
<line x1="55.8" y1="273.8" x2="55.8" y2="275.5" stroke="#111" stroke-width="0.7"/>
<line x1="57.3" y1="273.8" x2="57.3" y2="275.5" stroke="#111" stroke-width="0.7"/>
<line x1="58.8" y1="273.8" x2="58.8" y2="275.5" stroke="#111" stroke-width="0.7"/>
<line x1="60.8" y1="273.8" x2="60.8" y2="275.5" stroke="#111" stroke-width="0.7"/>
<line x1="52.8" y1="273.8" x2="52.8" y2="276.8" stroke="#111" stroke-width="0.7"/>
<text x="52.8" y="285.2" font-size="6.6" text-anchor="middle" fill="#222" font-family='"Liberation Sans", sans-serif' stroke="#222" stroke-width="0.1">0</text>
<text x="78.4" y="285.2" font-size="6.6" fill="#222" font-family='"Liberation Sans", sans-serif' stroke="#222" stroke-width="0.06" textLength="5.2" lengthAdjust="spacingAndGlyphs">10</text>
<text x="84.5" y="282.3" font-size="4" fill="#333" font-family='"Liberation Sans", sans-serif'>3</text>
<text x="96.75" y="285.2" font-size="6.6" fill="#222" font-family='"Liberation Sans", sans-serif' stroke="#222" stroke-width="0.06" textLength="5.2" lengthAdjust="spacingAndGlyphs">10</text>
<text x="102.85" y="282.3" font-size="4" fill="#333" font-family='"Liberation Sans", sans-serif'>4</text>
<text x="115.1" y="285.2" font-size="6.6" fill="#222" font-family='"Liberation Sans", sans-serif' stroke="#222" stroke-width="0.06" textLength="5.2" lengthAdjust="spacingAndGlyphs">10</text>
<text x="121.2" y="282.3" font-size="4" fill="#333" font-family='"Liberation Sans", sans-serif'>5</text>
<text x="85" y="297.5" font-size="9.3" text-anchor="middle" fill="#222" font-family='"Liberation Sans", sans-serif' textLength="23.7" lengthAdjust="spacingAndGlyphs" stroke="#222" stroke-width="0.04">Vcam1</text>
<text x="22.3" y="232.5" font-size="9.0" text-anchor="middle" fill="#222" font-family='"Liberation Sans", sans-serif' transform="rotate(-90 22.3 232.5)" textLength="22.6" lengthAdjust="spacingAndGlyphs" stroke="#222" stroke-width="0.04">Count</text>
<line x1="67.7" y1="197.3" x2="80.1" y2="197.3" stroke="#6fae45" stroke-width="1.2" stroke-dasharray="4,1.2"/>
<text x="83" y="199.20000000000002" font-size="5.4" text-anchor="start" fill="#555" font-family='"Liberation Serif", serif'>FMO</text>
<line x1="67.7" y1="206.5" x2="80.1" y2="206.5" stroke="#3a5a8e" stroke-width="1.1"/>
<text x="83" y="208.4" font-size="5.4" text-anchor="start" fill="#555" font-family='"Liberation Serif", serif'>PBS</text>
<line x1="67.7" y1="215.5" x2="80.1" y2="215.5" stroke="#b02a3e" stroke-width="1.1"/>
<text x="83" y="217.4" font-size="5.4" text-anchor="start" fill="#555" font-family='"Liberation Serif", serif'>EPO</text>
<polyline points="274.2,273.2 280,272.6 284,271.5 288.8,268.6 292.7,264.8 294.6,266.2 297,266.2 299.5,265.3 301.9,264.3 303.8,266.7 305.7,265.3 307.7,263.3 309.6,262.4 310.9,263.6 312,260.9 314,256.1 315.9,250.8 317.8,246.4 319.3,240.6 320.5,234.5 321.8,229.8 323.2,221.1 324.7,214.3 325.6,208.5 326.6,208.5 327.6,211.4 328.5,215.3 329.5,212.4 330.5,214.3 331.4,218.2 332.9,223 334.3,226.9 335.8,233.2 337.7,234.1 338.4,234 339.4,233 339.9,235 340.9,239.9 342.3,244.8 343.3,249.7 344.8,254.7 345.8,259.6 346.8,264.6 347.8,268.5 349.7,271 352.7,272.4 356,273.1" fill="none" stroke="#b02a3e" stroke-width="1.1" stroke-linejoin="round"/>
<polyline points="274.2,273.2 278,272.9 281,272.3 284,271.5 287.9,269.6 291.7,267.2 294.6,264.3 297,260.9 298.5,260 299.9,258.5 301.4,260.4 302.8,259 304.8,258.5 306.2,257.1 307.7,256.1 309.1,255.1 310.6,255.6 312,254.6 313.5,253.7 314.4,250.3 315.4,245.9 316.4,246.4 317.3,248.4 318.3,243.5 319.7,240.6 320.6,238 322.2,233.6 323.7,225.9 325.1,219.2 326.6,212.9 327.6,207.6 328.5,201.3 329.3,206.6 330,209.5 330.9,208.5 331.9,207.6 332.6,211.4 333.4,217.2 334.3,223 335.3,227.5 335.9,234 337.4,234.4 337.9,237.9 338.9,243.8 340.4,249.7 341.8,255.7 343.3,261.6 344.8,267 346.8,270 349.7,272 352.7,272.9 356,273.1" fill="none" stroke="#3a5a8e" stroke-width="1.1" stroke-linejoin="round"/>
<path d="M274.3,273 C274.5,272.17 275.08,270.43 275.5,268 C275.92,265.57 276.42,262.23 276.8,258.4 C277.18,254.57 277.47,249.4 277.8,245 C278.13,240.6 278.45,236.5 278.8,232 C279.15,227.5 279.55,221.75 279.9,218 C280.25,214.25 280.53,211.43 280.9,209.5 C281.27,207.57 281.72,206.48 282.1,206.4 C282.48,206.32 282.83,207.07 283.2,209 C283.57,210.93 283.93,214.17 284.3,218 C284.67,221.83 285.03,227.33 285.4,232 C285.77,236.67 286.12,241.67 286.5,246 C286.88,250.33 287.27,254.58 287.7,258 C288.13,261.42 288.55,264.33 289.1,266.5 C289.65,268.67 290.18,269.93 291,271 C291.82,272.07 293,272.55 294,272.9 C295,273.25 286.67,273.07 297,273.1 C307.33,273.13 346.17,273.1 356,273.1" fill="none" stroke="#6fae45" stroke-width="1.2" stroke-dasharray="3.2,1.6"/>
<rect x="273.9" y="191.4" width="81.80000000000001" height="81.99999999999997" fill="none" stroke="#111" stroke-width="1.3"/>
<line x1="270.7" y1="273.1" x2="273.9" y2="273.1" stroke="#111" stroke-width="1.1"/>
<text x="268.29999999999995" y="275.25" font-size="6.2" text-anchor="end" fill="#222" font-family='"Liberation Sans", sans-serif' stroke="#222" stroke-width="0.1">0</text>
<line x1="270.7" y1="253.9" x2="273.9" y2="253.9" stroke="#111" stroke-width="1.1"/>
<text x="268.29999999999995" y="256.05" font-size="6.2" text-anchor="end" fill="#222" font-family='"Liberation Sans", sans-serif' stroke="#222" stroke-width="0.1">30</text>
<line x1="270.7" y1="234.7" x2="273.9" y2="234.7" stroke="#111" stroke-width="1.1"/>
<text x="268.29999999999995" y="236.85" font-size="6.2" text-anchor="end" fill="#222" font-family='"Liberation Sans", sans-serif' stroke="#222" stroke-width="0.1">60</text>
<line x1="270.7" y1="215.5" x2="273.9" y2="215.5" stroke="#111" stroke-width="1.1"/>
<text x="268.29999999999995" y="217.65" font-size="6.2" text-anchor="end" fill="#222" font-family='"Liberation Sans", sans-serif' stroke="#222" stroke-width="0.1">90</text>
<line x1="270.7" y1="196.3" x2="273.9" y2="196.3" stroke="#111" stroke-width="1.1"/>
<text x="268.29999999999995" y="198.45000000000002" font-size="6.2" text-anchor="end" fill="#222" font-family='"Liberation Sans", sans-serif' stroke="#222" stroke-width="0.1">120</text>
<line x1="272.5" y1="266.7" x2="273.9" y2="266.7" stroke="#111" stroke-width="0.9"/>
<line x1="272.5" y1="260.3" x2="273.9" y2="260.3" stroke="#111" stroke-width="0.9"/>
<line x1="272.5" y1="247.5" x2="273.9" y2="247.5" stroke="#111" stroke-width="0.9"/>
<line x1="272.5" y1="241.1" x2="273.9" y2="241.1" stroke="#111" stroke-width="0.9"/>
<line x1="272.5" y1="228.3" x2="273.9" y2="228.3" stroke="#111" stroke-width="0.9"/>
<line x1="272.5" y1="221.9" x2="273.9" y2="221.9" stroke="#111" stroke-width="0.9"/>
<line x1="272.5" y1="209.1" x2="273.9" y2="209.1" stroke="#111" stroke-width="0.9"/>
<line x1="272.5" y1="202.7" x2="273.9" y2="202.7" stroke="#111" stroke-width="0.9"/>
<line x1="311.8" y1="273.4" x2="311.8" y2="276.4" stroke="#111" stroke-width="0.7"/>
<line x1="317.34" y1="273.4" x2="317.34" y2="275.09999999999997" stroke="#111" stroke-width="0.7"/>
<line x1="320.58" y1="273.4" x2="320.58" y2="275.09999999999997" stroke="#111" stroke-width="0.7"/>
<line x1="322.88" y1="273.4" x2="322.88" y2="275.09999999999997" stroke="#111" stroke-width="0.7"/>
<line x1="324.66" y1="273.4" x2="324.66" y2="275.09999999999997" stroke="#111" stroke-width="0.7"/>
<line x1="326.12" y1="273.4" x2="326.12" y2="275.09999999999997" stroke="#111" stroke-width="0.7"/>
<line x1="327.35" y1="273.4" x2="327.35" y2="275.09999999999997" stroke="#111" stroke-width="0.7"/>
<line x1="328.42" y1="273.4" x2="328.42" y2="275.09999999999997" stroke="#111" stroke-width="0.7"/>
<line x1="329.36" y1="273.4" x2="329.36" y2="275.09999999999997" stroke="#111" stroke-width="0.7"/>
<line x1="330.2" y1="273.4" x2="330.2" y2="276.4" stroke="#111" stroke-width="0.7"/>
<line x1="335.74" y1="273.4" x2="335.74" y2="275.09999999999997" stroke="#111" stroke-width="0.7"/>
<line x1="338.98" y1="273.4" x2="338.98" y2="275.09999999999997" stroke="#111" stroke-width="0.7"/>
<line x1="341.28" y1="273.4" x2="341.28" y2="275.09999999999997" stroke="#111" stroke-width="0.7"/>
<line x1="343.06" y1="273.4" x2="343.06" y2="275.09999999999997" stroke="#111" stroke-width="0.7"/>
<line x1="344.52" y1="273.4" x2="344.52" y2="275.09999999999997" stroke="#111" stroke-width="0.7"/>
<line x1="345.75" y1="273.4" x2="345.75" y2="275.09999999999997" stroke="#111" stroke-width="0.7"/>
<line x1="346.82" y1="273.4" x2="346.82" y2="275.09999999999997" stroke="#111" stroke-width="0.7"/>
<line x1="347.76" y1="273.4" x2="347.76" y2="275.09999999999997" stroke="#111" stroke-width="0.7"/>
<line x1="348.6" y1="273.4" x2="348.6" y2="276.4" stroke="#111" stroke-width="0.7"/>
<line x1="354.14" y1="273.4" x2="354.14" y2="275.09999999999997" stroke="#111" stroke-width="0.7"/>
<line x1="293.4" y1="273.4" x2="293.4" y2="275.09999999999997" stroke="#111" stroke-width="0.7"/>
<line x1="298.94" y1="273.4" x2="298.94" y2="275.09999999999997" stroke="#111" stroke-width="0.7"/>
<line x1="302.18" y1="273.4" x2="302.18" y2="275.09999999999997" stroke="#111" stroke-width="0.7"/>
<line x1="304.48" y1="273.4" x2="304.48" y2="275.09999999999997" stroke="#111" stroke-width="0.7"/>
<line x1="306.26" y1="273.4" x2="306.26" y2="275.09999999999997" stroke="#111" stroke-width="0.7"/>
<line x1="307.72" y1="273.4" x2="307.72" y2="275.09999999999997" stroke="#111" stroke-width="0.7"/>
<line x1="308.95" y1="273.4" x2="308.95" y2="275.09999999999997" stroke="#111" stroke-width="0.7"/>
<line x1="310.02" y1="273.4" x2="310.02" y2="275.09999999999997" stroke="#111" stroke-width="0.7"/>
<line x1="310.96" y1="273.4" x2="310.96" y2="275.09999999999997" stroke="#111" stroke-width="0.7"/>
<line x1="274.5" y1="273.4" x2="274.5" y2="275.09999999999997" stroke="#111" stroke-width="0.7"/>
<line x1="276.5" y1="273.4" x2="276.5" y2="275.09999999999997" stroke="#111" stroke-width="0.7"/>
<line x1="278" y1="273.4" x2="278" y2="275.09999999999997" stroke="#111" stroke-width="0.7"/>
<line x1="279.5" y1="273.4" x2="279.5" y2="275.09999999999997" stroke="#111" stroke-width="0.7"/>
<line x1="280.5" y1="273.4" x2="280.5" y2="275.09999999999997" stroke="#111" stroke-width="0.7"/>
<line x1="281.5" y1="273.4" x2="281.5" y2="275.09999999999997" stroke="#111" stroke-width="0.7"/>
<line x1="283.5" y1="273.4" x2="283.5" y2="275.09999999999997" stroke="#111" stroke-width="0.7"/>
<line x1="284.5" y1="273.4" x2="284.5" y2="275.09999999999997" stroke="#111" stroke-width="0.7"/>
<line x1="285.5" y1="273.4" x2="285.5" y2="275.09999999999997" stroke="#111" stroke-width="0.7"/>
<line x1="287" y1="273.4" x2="287" y2="275.09999999999997" stroke="#111" stroke-width="0.7"/>
<line x1="288.5" y1="273.4" x2="288.5" y2="275.09999999999997" stroke="#111" stroke-width="0.7"/>
<line x1="290.5" y1="273.4" x2="290.5" y2="275.09999999999997" stroke="#111" stroke-width="0.7"/>
<line x1="282.5" y1="273.4" x2="282.5" y2="276.4" stroke="#111" stroke-width="0.7"/>
<text x="282.5" y="284.79999999999995" font-size="6.6" text-anchor="middle" fill="#222" font-family='"Liberation Sans", sans-serif' stroke="#222" stroke-width="0.1">0</text>
<text x="308.1" y="284.79999999999995" font-size="6.6" fill="#222" font-family='"Liberation Sans", sans-serif' stroke="#222" stroke-width="0.06" textLength="5.2" lengthAdjust="spacingAndGlyphs">10</text>
<text x="314.2" y="281.9" font-size="4" fill="#333" font-family='"Liberation Sans", sans-serif'>3</text>
<text x="326.5" y="284.79999999999995" font-size="6.6" fill="#222" font-family='"Liberation Sans", sans-serif' stroke="#222" stroke-width="0.06" textLength="5.2" lengthAdjust="spacingAndGlyphs">10</text>
<text x="332.6" y="281.9" font-size="4" fill="#333" font-family='"Liberation Sans", sans-serif'>4</text>
<text x="344.9" y="284.79999999999995" font-size="6.6" fill="#222" font-family='"Liberation Sans", sans-serif' stroke="#222" stroke-width="0.06" textLength="5.2" lengthAdjust="spacingAndGlyphs">10</text>
<text x="351" y="281.9" font-size="4" fill="#333" font-family='"Liberation Sans", sans-serif'>5</text>
<text x="315" y="297.8" font-size="9.3" text-anchor="middle" fill="#222" font-family='"Liberation Sans", sans-serif' textLength="23.7" lengthAdjust="spacingAndGlyphs" stroke="#222" stroke-width="0.04">CD169</text>
<text x="252" y="232.3" font-size="9.0" text-anchor="middle" fill="#222" font-family='"Liberation Sans", sans-serif' transform="rotate(-90 252 232.3)" textLength="22.6" lengthAdjust="spacingAndGlyphs" stroke="#222" stroke-width="0.04">Count</text>
<line x1="290.8" y1="197.5" x2="303.6" y2="197.5" stroke="#6fae45" stroke-width="1.2" stroke-dasharray="4,1.2"/>
<text x="305.7" y="199.4" font-size="5.4" text-anchor="start" fill="#555" font-family='"Liberation Serif", serif'>FMO</text>
<line x1="290.8" y1="206.3" x2="303.6" y2="206.3" stroke="#3a5a8e" stroke-width="1.1"/>
<text x="305.7" y="208.20000000000002" font-size="5.4" text-anchor="start" fill="#555" font-family='"Liberation Serif", serif'>PBS</text>
<line x1="290.8" y1="215.3" x2="303.6" y2="215.3" stroke="#b02a3e" stroke-width="1.1"/>
<text x="305.7" y="217.20000000000002" font-size="5.4" text-anchor="start" fill="#555" font-family='"Liberation Serif", serif'>EPO</text>
<polyline points="44.5,432.4 49,432 50.8,430.5 51.9,424 52.8,413 53.2,404 53.6,400 55.1,377 56.7,354.8 58.5,377 59.9,396 60.7,404.6 62,413.2 63.7,418.3 65.5,421.8 67.2,424.3 68.9,425.6 71.5,426.9 74,427.3 76.6,428.2 78.3,427.8 80,428.3 81.8,427.9 83.5,428.1 85.3,427.4 87.1,426.5 88.8,425.2 90.6,424.3 92.4,422.6 94.2,421.2 95.5,418.6 96.4,416.8 97.7,419 99,416.4 99.9,414.9 101.2,416.4 102.6,416.4 103.5,417.7 104.8,421.2 106.1,423 107.4,424.8 108.8,426.5 110.1,428.6 112.7,430 115.4,431.3 118,431.9 126,432.2" fill="none" stroke="#b02a3e" stroke-width="1.1" stroke-linejoin="round"/>
<polyline points="44.5,432.4 48.3,431.6 50.4,430.3 51.7,424.3 52.6,413.2 53,404 53.4,400 54.9,378 56.3,358.6 58,378 59.5,396 59.9,404.6 60.7,413.2 61.6,419.2 62.9,421.8 64.6,423.5 66.3,426 68,427.8 69.8,428.2 71.5,429 73.6,430.3 78.3,430.3 80,430.5 83.5,430.1 87.1,429.2 90.6,428.3 94.2,426.5 97.7,424.8 99.9,423.5 101.7,422.1 103,423.2 104.8,424.8 107.4,427 110.1,428.8 112.7,430.1 115.4,431.4 118,431.9 126,432.2" fill="none" stroke="#3a5a8e" stroke-width="1.1" stroke-linejoin="round"/>
<path d="M44.5,432.4 C44.7,432.27 45,431.8 45.7,431.6 C46.4,431.4 47.98,431.55 48.7,431.2 C49.42,430.85 49.63,430.78 50,429.5 C50.37,428.22 50.62,426.22 50.9,423.5 C51.18,420.78 51.48,416.35 51.7,413.2 C51.92,410.05 52.05,407.47 52.2,404.6 C52.35,401.73 52.37,400.93 52.6,396 C52.83,391.07 53.25,381.87 53.6,375 C53.95,368.13 54.37,354.8 54.7,354.8 C55.03,354.8 55.23,368.13 55.6,375 C55.97,381.87 56.55,391.07 56.9,396 C57.25,400.93 57.42,401.73 57.7,404.6 C57.98,407.47 58.23,410.33 58.6,413.2 C58.97,416.07 59.4,419.37 59.9,421.8 C60.4,424.23 60.88,426.23 61.6,427.8 C62.32,429.37 63.27,430.5 64.2,431.2 C65.13,431.9 56.9,431.83 67.2,432 C77.5,432.17 116.2,432.17 126,432.2" fill="none" stroke="#6fae45" stroke-width="1.2" stroke-dasharray="3.2,1.6"/>
<rect x="44.2" y="349.8" width="82.0" height="83.0" fill="none" stroke="#111" stroke-width="1.3"/>
<line x1="41.0" y1="432.2" x2="44.2" y2="432.2" stroke="#111" stroke-width="1.1"/>
<text x="38.6" y="434.34999999999997" font-size="6.2" text-anchor="end" fill="#222" font-family='"Liberation Sans", sans-serif' stroke="#222" stroke-width="0.1">0</text>
<line x1="41.0" y1="416.4" x2="44.2" y2="416.4" stroke="#111" stroke-width="1.1"/>
<text x="38.6" y="418.54999999999995" font-size="6.2" text-anchor="end" fill="#222" font-family='"Liberation Sans", sans-serif' stroke="#222" stroke-width="0.1">20</text>
<line x1="41.0" y1="400.6" x2="44.2" y2="400.6" stroke="#111" stroke-width="1.1"/>
<text x="38.6" y="402.75" font-size="6.2" text-anchor="end" fill="#222" font-family='"Liberation Sans", sans-serif' stroke="#222" stroke-width="0.1">40</text>
<line x1="41.0" y1="384.8" x2="44.2" y2="384.8" stroke="#111" stroke-width="1.1"/>
<text x="38.6" y="386.95" font-size="6.2" text-anchor="end" fill="#222" font-family='"Liberation Sans", sans-serif' stroke="#222" stroke-width="0.1">60</text>
<line x1="41.0" y1="369.0" x2="44.2" y2="369.0" stroke="#111" stroke-width="1.1"/>
<text x="38.6" y="371.15" font-size="6.2" text-anchor="end" fill="#222" font-family='"Liberation Sans", sans-serif' stroke="#222" stroke-width="0.1">80</text>
<line x1="41.0" y1="353.2" x2="44.2" y2="353.2" stroke="#111" stroke-width="1.1"/>
<text x="38.6" y="355.34999999999997" font-size="6.2" text-anchor="end" fill="#222" font-family='"Liberation Sans", sans-serif' stroke="#222" stroke-width="0.1">100</text>
<line x1="42.800000000000004" y1="428.25" x2="44.2" y2="428.25" stroke="#111" stroke-width="0.9"/>
<line x1="42.800000000000004" y1="424.3" x2="44.2" y2="424.3" stroke="#111" stroke-width="0.9"/>
<line x1="42.800000000000004" y1="420.35" x2="44.2" y2="420.35" stroke="#111" stroke-width="0.9"/>
<line x1="42.800000000000004" y1="412.45" x2="44.2" y2="412.45" stroke="#111" stroke-width="0.9"/>
<line x1="42.800000000000004" y1="408.5" x2="44.2" y2="408.5" stroke="#111" stroke-width="0.9"/>
<line x1="42.800000000000004" y1="404.55" x2="44.2" y2="404.55" stroke="#111" stroke-width="0.9"/>
<line x1="42.800000000000004" y1="396.65" x2="44.2" y2="396.65" stroke="#111" stroke-width="0.9"/>
<line x1="42.800000000000004" y1="392.7" x2="44.2" y2="392.7" stroke="#111" stroke-width="0.9"/>
<line x1="42.800000000000004" y1="388.75" x2="44.2" y2="388.75" stroke="#111" stroke-width="0.9"/>
<line x1="42.800000000000004" y1="380.85" x2="44.2" y2="380.85" stroke="#111" stroke-width="0.9"/>
<line x1="42.800000000000004" y1="376.9" x2="44.2" y2="376.9" stroke="#111" stroke-width="0.9"/>
<line x1="42.800000000000004" y1="372.95" x2="44.2" y2="372.95" stroke="#111" stroke-width="0.9"/>
<line x1="42.800000000000004" y1="365.05" x2="44.2" y2="365.05" stroke="#111" stroke-width="0.9"/>
<line x1="42.800000000000004" y1="361.1" x2="44.2" y2="361.1" stroke="#111" stroke-width="0.9"/>
<line x1="42.800000000000004" y1="357.15" x2="44.2" y2="357.15" stroke="#111" stroke-width="0.9"/>
<line x1="82.1" y1="432.8" x2="82.1" y2="435.8" stroke="#111" stroke-width="0.7"/>
<line x1="87.62" y1="432.8" x2="87.62" y2="434.5" stroke="#111" stroke-width="0.7"/>
<line x1="90.86" y1="432.8" x2="90.86" y2="434.5" stroke="#111" stroke-width="0.7"/>
<line x1="93.15" y1="432.8" x2="93.15" y2="434.5" stroke="#111" stroke-width="0.7"/>
<line x1="94.93" y1="432.8" x2="94.93" y2="434.5" stroke="#111" stroke-width="0.7"/>
<line x1="96.38" y1="432.8" x2="96.38" y2="434.5" stroke="#111" stroke-width="0.7"/>
<line x1="97.61" y1="432.8" x2="97.61" y2="434.5" stroke="#111" stroke-width="0.7"/>
<line x1="98.67" y1="432.8" x2="98.67" y2="434.5" stroke="#111" stroke-width="0.7"/>
<line x1="99.61" y1="432.8" x2="99.61" y2="434.5" stroke="#111" stroke-width="0.7"/>
<line x1="100.45" y1="432.8" x2="100.45" y2="435.8" stroke="#111" stroke-width="0.7"/>
<line x1="105.97" y1="432.8" x2="105.97" y2="434.5" stroke="#111" stroke-width="0.7"/>
<line x1="109.21" y1="432.8" x2="109.21" y2="434.5" stroke="#111" stroke-width="0.7"/>
<line x1="111.5" y1="432.8" x2="111.5" y2="434.5" stroke="#111" stroke-width="0.7"/>
<line x1="113.28" y1="432.8" x2="113.28" y2="434.5" stroke="#111" stroke-width="0.7"/>
<line x1="114.73" y1="432.8" x2="114.73" y2="434.5" stroke="#111" stroke-width="0.7"/>
<line x1="115.96" y1="432.8" x2="115.96" y2="434.5" stroke="#111" stroke-width="0.7"/>
<line x1="117.02" y1="432.8" x2="117.02" y2="434.5" stroke="#111" stroke-width="0.7"/>
<line x1="117.96" y1="432.8" x2="117.96" y2="434.5" stroke="#111" stroke-width="0.7"/>
<line x1="118.8" y1="432.8" x2="118.8" y2="435.8" stroke="#111" stroke-width="0.7"/>
<line x1="124.32" y1="432.8" x2="124.32" y2="434.5" stroke="#111" stroke-width="0.7"/>
<line x1="63.75" y1="432.8" x2="63.75" y2="434.5" stroke="#111" stroke-width="0.7"/>
<line x1="69.27" y1="432.8" x2="69.27" y2="434.5" stroke="#111" stroke-width="0.7"/>
<line x1="72.51" y1="432.8" x2="72.51" y2="434.5" stroke="#111" stroke-width="0.7"/>
<line x1="74.8" y1="432.8" x2="74.8" y2="434.5" stroke="#111" stroke-width="0.7"/>
<line x1="76.58" y1="432.8" x2="76.58" y2="434.5" stroke="#111" stroke-width="0.7"/>
<line x1="78.03" y1="432.8" x2="78.03" y2="434.5" stroke="#111" stroke-width="0.7"/>
<line x1="79.26" y1="432.8" x2="79.26" y2="434.5" stroke="#111" stroke-width="0.7"/>
<line x1="80.32" y1="432.8" x2="80.32" y2="434.5" stroke="#111" stroke-width="0.7"/>
<line x1="81.26" y1="432.8" x2="81.26" y2="434.5" stroke="#111" stroke-width="0.7"/>
<line x1="44.8" y1="432.8" x2="44.8" y2="434.5" stroke="#111" stroke-width="0.7"/>
<line x1="46.8" y1="432.8" x2="46.8" y2="434.5" stroke="#111" stroke-width="0.7"/>
<line x1="48.3" y1="432.8" x2="48.3" y2="434.5" stroke="#111" stroke-width="0.7"/>
<line x1="49.8" y1="432.8" x2="49.8" y2="434.5" stroke="#111" stroke-width="0.7"/>
<line x1="50.8" y1="432.8" x2="50.8" y2="434.5" stroke="#111" stroke-width="0.7"/>
<line x1="51.8" y1="432.8" x2="51.8" y2="434.5" stroke="#111" stroke-width="0.7"/>
<line x1="53.8" y1="432.8" x2="53.8" y2="434.5" stroke="#111" stroke-width="0.7"/>
<line x1="54.8" y1="432.8" x2="54.8" y2="434.5" stroke="#111" stroke-width="0.7"/>
<line x1="55.8" y1="432.8" x2="55.8" y2="434.5" stroke="#111" stroke-width="0.7"/>
<line x1="57.3" y1="432.8" x2="57.3" y2="434.5" stroke="#111" stroke-width="0.7"/>
<line x1="58.8" y1="432.8" x2="58.8" y2="434.5" stroke="#111" stroke-width="0.7"/>
<line x1="60.8" y1="432.8" x2="60.8" y2="434.5" stroke="#111" stroke-width="0.7"/>
<line x1="52.8" y1="432.8" x2="52.8" y2="435.8" stroke="#111" stroke-width="0.7"/>
<text x="52.8" y="444.2" font-size="6.6" text-anchor="middle" fill="#222" font-family='"Liberation Sans", sans-serif' stroke="#222" stroke-width="0.1">0</text>
<text x="78.4" y="444.2" font-size="6.6" fill="#222" font-family='"Liberation Sans", sans-serif' stroke="#222" stroke-width="0.06" textLength="5.2" lengthAdjust="spacingAndGlyphs">10</text>
<text x="84.5" y="441.3" font-size="4" fill="#333" font-family='"Liberation Sans", sans-serif'>3</text>
<text x="96.75" y="444.2" font-size="6.6" fill="#222" font-family='"Liberation Sans", sans-serif' stroke="#222" stroke-width="0.06" textLength="5.2" lengthAdjust="spacingAndGlyphs">10</text>
<text x="102.85" y="441.3" font-size="4" fill="#333" font-family='"Liberation Sans", sans-serif'>4</text>
<text x="115.1" y="444.2" font-size="6.6" fill="#222" font-family='"Liberation Sans", sans-serif' stroke="#222" stroke-width="0.06" textLength="5.2" lengthAdjust="spacingAndGlyphs">10</text>
<text x="121.2" y="441.3" font-size="4" fill="#333" font-family='"Liberation Sans", sans-serif'>5</text>
<text x="85" y="456.6" font-size="9.3" text-anchor="middle" fill="#222" font-family='"Liberation Sans", sans-serif' textLength="23.7" lengthAdjust="spacingAndGlyphs" stroke="#222" stroke-width="0.04">CD163</text>
<text x="22.3" y="391.5" font-size="9.0" text-anchor="middle" fill="#222" font-family='"Liberation Sans", sans-serif' transform="rotate(-90 22.3 391.5)" textLength="22.6" lengthAdjust="spacingAndGlyphs" stroke="#222" stroke-width="0.04">Count</text>
<line x1="70.9" y1="356" x2="83.4" y2="356" stroke="#6fae45" stroke-width="1.2" stroke-dasharray="4,1.2"/>
<text x="86.3" y="357.9" font-size="5.4" text-anchor="start" fill="#555" font-family='"Liberation Serif", serif'>FMO</text>
<line x1="70.9" y1="364.9" x2="83.4" y2="364.9" stroke="#3a5a8e" stroke-width="1.1"/>
<text x="86.3" y="366.79999999999995" font-size="5.4" text-anchor="start" fill="#555" font-family='"Liberation Serif", serif'>PBS</text>
<line x1="70.9" y1="374.3" x2="83.4" y2="374.3" stroke="#b02a3e" stroke-width="1.1"/>
<text x="86.3" y="376.2" font-size="5.4" text-anchor="start" fill="#555" font-family='"Liberation Serif", serif'>EPO</text>
<rect x="0" y="0" width="520" height="1.2" fill="#3c3c3c"/>
<rect x="0" y="0" width="1.2" height="466" fill="#3c3c3c"/>
<rect x="518.8" y="1.4" width="1.2" height="466" fill="#111"/>
<rect x="0" y="463.8" width="520" height="2.2" fill="#444"/>
</svg>
</body></html>
